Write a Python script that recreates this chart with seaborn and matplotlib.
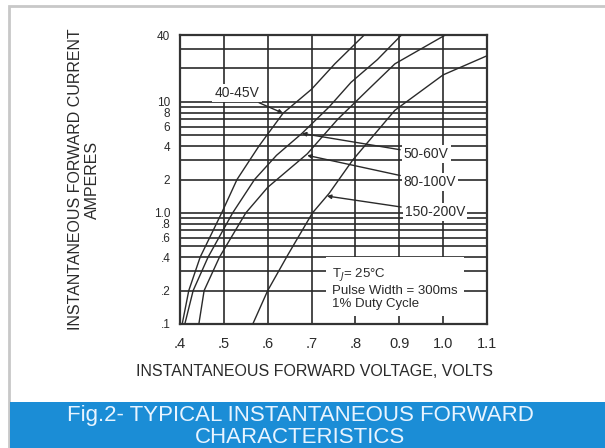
# Typical instantaneous forward characteristics (Fig.2) - seaborn rebuild

import numpy as np
import pandas as pd
import seaborn as sns
import matplotlib.pyplot as plt
from matplotlib.patches import Rectangle

# Curve data (volts, amperes)
volts_40_45 = [0.405, 0.42, 0.446, 0.495, 0.53, 0.58, 0.635, 0.70, 0.753, 0.82]
amps_40_45 = [0.1, 0.2, 0.4, 1.0, 2.0, 4.0, 7.9, 13, 22, 40]

volts_50_60 = [0.411, 0.43, 0.464, 0.52, 0.57, 0.62, 0.678, 0.74, 0.79, 0.85, 0.905]
amps_50_60 = [0.1, 0.2, 0.4, 1.0, 2.0, 3.3, 5.2, 9, 15, 24, 40]

volts_80_100 = [0.443, 0.455, 0.49, 0.55, 0.60, 0.65, 0.69, 0.76, 0.83, 0.89, 1.005]
amps_80_100 = [0.1, 0.2, 0.4, 1.0, 1.7, 2.5, 3.4, 7, 13, 22, 40]

volts_150_200 = [0.566, 0.60, 0.646, 0.702, 0.74, 0.794, 0.89, 1.0, 1.1]
amps_150_200 = [0.1, 0.2, 0.42, 1.0, 1.5, 3.0, 8.4, 17.5, 26]

series_names = ["40-45V", "50-60V", "80-100V", "150-200V"]

# axis ticks
x_ticks = [0.4, 0.5, 0.6, 0.7, 0.8, 0.9, 1.0, 1.1]
x_tick_labels = [".4", ".5", ".6", ".7", ".8", "0.9", "1.0", "1.1"]
y_ticks = [0.1, 0.2, 0.4, 0.6, 0.8, 1.0, 2, 4, 6, 8, 10, 40]
y_tick_labels = [".1", ".2", ".4", ".6", ".8", "1.0", "2", "4", "6", "8", "10", "40"]
y_minor = [0.3, 0.5, 0.7, 0.9, 3, 5, 7, 9, 20, 30]

# label text positions (volts, amps) and arrow tips
label_pos = [(0.53, 12.0), (0.961, 3.39), (0.970, 1.90), (0.981, 1.02)]
label_tips = [(0.635, 7.9), (0.678, 5.2), (0.69, 3.3), (0.735, 1.42)]

frames = []
for name, v, a in zip(series_names,
                      [volts_40_45, volts_50_60, volts_80_100, volts_150_200],
                      [amps_40_45, amps_50_60, amps_80_100, amps_150_200]):
    frames.append(pd.DataFrame({"volts": v, "amps": a, "series": name}))
df = pd.concat(frames, ignore_index=True)

sns.set_theme(style="white")
plt.rcParams['font.family'] = ['Liberation Sans', 'DejaVu Sans']

ink = '#2a2a2a'
fig = plt.figure(figsize=(6.05, 4.48), dpi=100)
ax = fig.add_axes([180 / 605, 1 - 324 / 448, 307 / 605, 289 / 448])

sns.lineplot(data=df, x='volts', y='amps', units='series', estimator=None,
             sort=False, color=ink, linewidth=1.0, ax=ax, zorder=3)

ax.set_yscale('log')
ax.set_xlim(0.4, 1.1)
ax.set_ylim(0.1, 40)
ax.set_xticks(x_ticks)
ax.set_xticklabels(x_tick_labels, fontsize=10.5)
ax.set_yticks(y_ticks)
ax.set_yticklabels(y_tick_labels, fontsize=8.5)
ax.set_yticks(y_minor, minor=True)
ax.yaxis.set_minor_formatter(plt.NullFormatter())
ax.tick_params(which='both', length=0, colors=ink)
ax.tick_params(axis='x', pad=9)
ax.tick_params(axis='y', pad=7)
ax.grid(True, which='both', color=ink, linewidth=1.2, zorder=1)
ax.set_axisbelow(True)
for s in ax.spines.values():
    s.set_color('#333333')
    s.set_linewidth(1.6)

ax.set_xlabel('INSTANTANEOUS FORWARD VOLTAGE, VOLTS', fontsize=11.5, color=ink, va='center')
ax.xaxis.set_label_coords((315 - 180) / 307, -(372 - 324) / 289)
ax.set_ylabel('INSTANTANEOUS FORWARD CURRENT\nAMPERES', fontsize=11.5, color=ink,
              va='center', linespacing=1.15)
ax.yaxis.set_label_coords((84 - 180) / 307, 0.5)

for name, pos, tip in zip(series_names, label_pos, label_tips):
    ax.annotate(name, xy=tip, xytext=pos, fontsize=10, color=ink,
                ha='center', va='center', zorder=5,
                bbox=dict(boxstyle='square,pad=0.15', fc='white', ec='none'),
                arrowprops=dict(arrowstyle='-|>', color=ink, lw=1.0,
                                mutation_scale=6, shrinkA=1, shrinkB=0))

ax.text(0.7466, 0.21, 'T$_J$= 25\u00b0C\nPulse Width = 300ms\n1% Duty Cycle',
        fontsize=9.5, color=ink, ha='left', va='center', linespacing=1.15,
        transform=ax.transData, zorder=5,
        bbox=dict(boxstyle='square,pad=0.45', fc='white', ec='none'))

# outer frame and caption banner
fig.patches.append(Rectangle((9 / 605, -0.05), 1.1, 1 - 6 / 448 + 0.05,
                             transform=fig.transFigure, fill=False,
                             ec='#c8c8c8', lw=2))
fig.patches.append(Rectangle((10 / 605, 0), 1, 46 / 448, transform=fig.transFigure,
                             fc='#1b8dd6', ec='none'))
fig.text(300 / 605, 1 - 415 / 448, 'Fig.2- TYPICAL INSTANTANEOUS FORWARD', ha='center',
         va='center', fontsize=16, color='#e8f4ff')
fig.text(300 / 605, 1 - 437 / 448, 'CHARACTERISTICS', ha='center', va='center',
         fontsize=16, color='#e8f4ff')

fig.savefig('out.png', dpi=100, facecolor='white')
